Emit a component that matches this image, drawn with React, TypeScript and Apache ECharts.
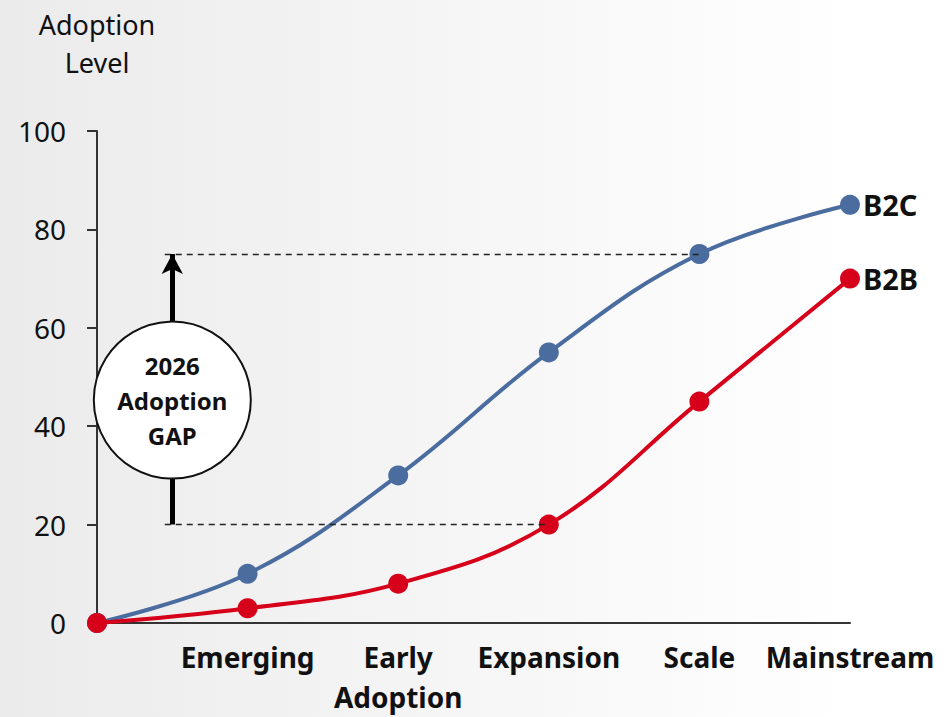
import React, { useEffect, useRef } from "react";
import * as echarts from "echarts";

const categories = ["", "Emerging", "Early\nAdoption", "Expansion", "Scale", "Mainstream"];
const b2cValues = [0, 10, 30, 55, 75, 85];
const b2bValues = [0, 3, 8, 20, 45, 70];
const yTicks = { min: 0, max: 100, interval: 20 };
const gapX = 0.5;
const gapStartX = 0.45;
const gapLow = 20; // B2B at Expansion
const gapHigh = 75; // B2C at Scale
const gapLabel = "2026\nAdoption\nGAP";
const gapCircleY = 45.3;

const FONT = "'Noto Sans', 'DejaVu Sans', sans-serif";

export default function App() {
  const ref = useRef<HTMLDivElement>(null);
  useEffect(() => {
    if (!ref.current) return;
    const chart = echarts.init(ref.current, undefined, { renderer: "svg" });
    const toPts = (arr: number[]) => arr.map((v, i) => [i, v]);
    chart.setOption({
      animation: false,
      textStyle: { fontFamily: FONT },
      grid: { left: 97, right: 102, top: 131, bottom: 87 },
      graphic: [
        {
          type: "text",
          x: 97,
          y: 5,
          style: {
            text: "Adoption\nLevel",
            align: "center",
            verticalAlign: "top",
            fontSize: 27,
            lineHeight: 38,
            fill: "#111",
            fontFamily: FONT,
          },
        },
      ],
      xAxis: {
        type: "value",
        min: 0,
        max: categories.length - 1,
        interval: 1,
        splitLine: { show: false },
        axisTick: { show: false },
        axisLine: { show: true, onZero: false, lineStyle: { color: "#333", width: 2 } },
        axisLabel: {
          formatter: (v: number) => categories[Math.round(v)] ?? "",
          fontSize: 28,
          fontWeight: "bold",
          color: "#111",
          lineHeight: 40,
          margin: 14,
          fontFamily: FONT,
        },
      },
      yAxis: {
        type: "value",
        min: yTicks.min,
        max: yTicks.max,
        interval: yTicks.interval,
        splitLine: { show: false },
        axisLine: { show: true, lineStyle: { color: "#333", width: 2 } },
        axisTick: { show: true, length: 10, lineStyle: { color: "#333", width: 2 } },
        axisLabel: { fontSize: 28, color: "#111", margin: 31, fontFamily: FONT },
      },
      series: [
        {
          name: "B2C",
          type: "line",
          data: toPts(b2cValues),
          smooth: 0.4,
          symbol: "circle",
          symbolSize: 20,
          itemStyle: { color: "#4a6c9f" },
          lineStyle: { color: "#4a6c9f", width: 4 },
          endLabel: {
            show: true,
            formatter: "{a}",
            fontSize: 29,
            fontWeight: "bold",
            color: "#111",
            distance: 13,
            fontFamily: FONT,
          },
          markLine: {
            silent: true,
            symbol: "none",
            label: { show: false },
            lineStyle: { type: [6, 5], color: "#222", width: 1.3 },
            data: [
              [{ coord: [gapStartX, gapHigh] }, { coord: [4, gapHigh] }],
              [{ coord: [gapStartX, gapLow] }, { coord: [3, gapLow] }],
              [
                { coord: [gapX, gapLow], symbol: "none", lineStyle: { type: "solid", width: 5, color: "#000" } },
                { coord: [gapX, gapHigh], symbol: "arrow", symbolSize: [16, 20], lineStyle: { type: "solid", width: 5, color: "#000" } },
              ],
            ],
          },
          z: 3,
        },
        {
          name: "B2B",
          type: "line",
          data: toPts(b2bValues),
          smooth: 0.4,
          symbol: "circle",
          symbolSize: 20,
          itemStyle: { color: "#d7001a" },
          lineStyle: { color: "#d7001a", width: 4 },
          endLabel: {
            show: true,
            formatter: "{a}",
            fontSize: 29,
            fontWeight: "bold",
            color: "#111",
            distance: 13,
            fontFamily: FONT,
          },
          z: 4,
        },
        {
          name: "gap",
          type: "scatter",
          data: [[gapX, gapCircleY]],
          symbol: "circle",
          symbolSize: 157,
          silent: true,
          itemStyle: { color: "#fff", borderColor: "#111", borderWidth: 2, opacity: 1 },
          label: {
            show: true,
            position: "inside",
            formatter: gapLabel,
            fontSize: 24,
            fontWeight: "bold",
            lineHeight: 35,
            color: "#111",
            fontFamily: FONT,
          },
          z: 10,
        },
      ],
    });
    return () => chart.dispose();
  }, []);
  return (
    <div
      style={{
        position: "fixed",
        left: 0,
        top: 0,
        width: 952,
        height: 717,
        background: "linear-gradient(to right, #ebebeb 0%, #f6f6f6 50%, #ffffff 90%)",
      }}
    >
      <div ref={ref} style={{ width: 952, height: 717 }} />
    </div>
  );
}
